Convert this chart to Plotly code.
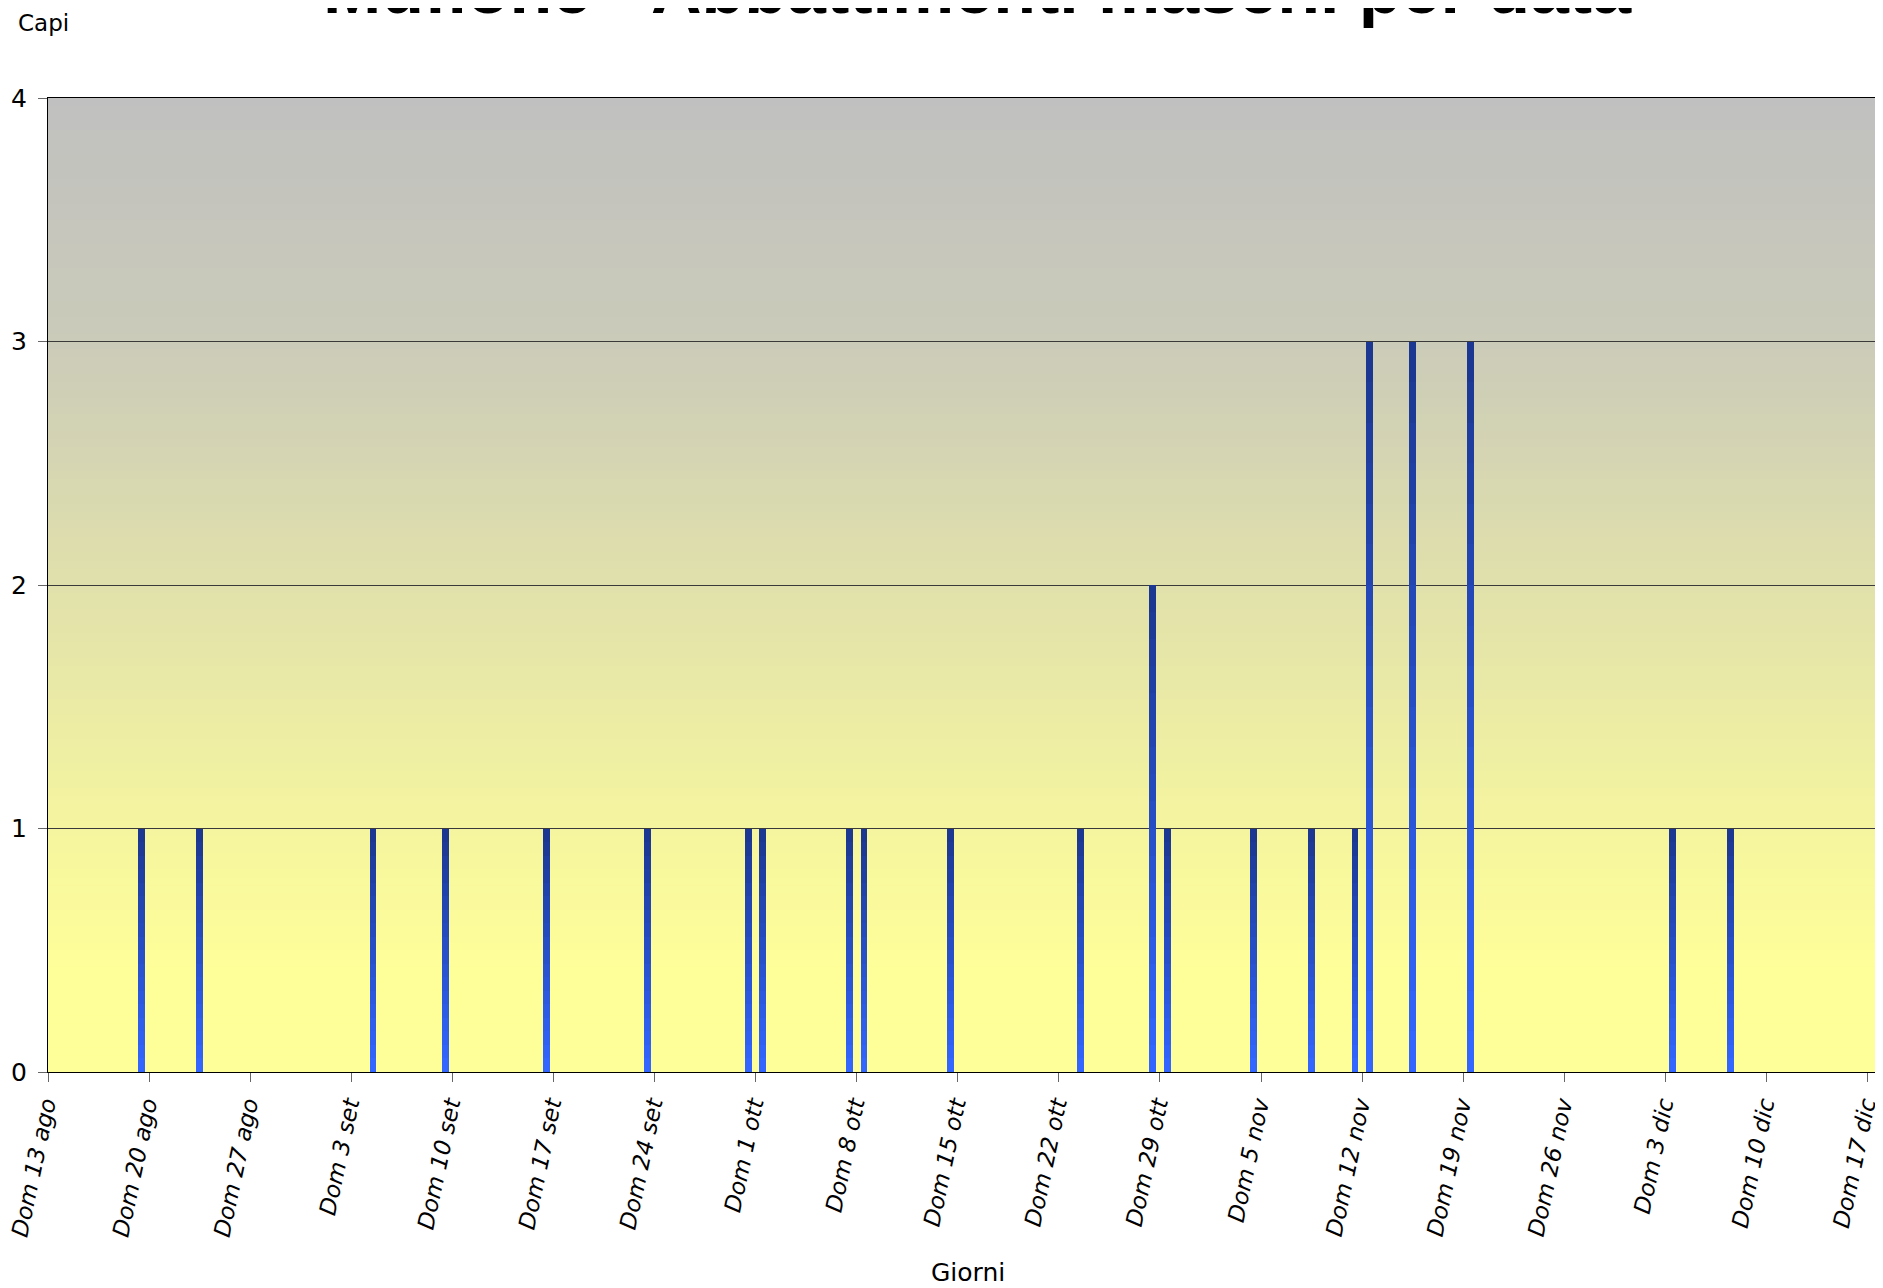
import plotly.graph_objects as go
import pandas as pd
import numpy as np

# ---- data ----
dates = ["2006-08-19", "2006-08-23", "2006-09-04", "2006-09-09", "2006-09-16",
         "2006-09-23", "2006-09-30", "2006-10-01", "2006-10-07", "2006-10-08",
         "2006-10-14", "2006-10-23", "2006-10-28", "2006-10-29", "2006-11-04",
         "2006-11-08", "2006-11-11", "2006-11-12", "2006-11-15", "2006-11-19",
         "2006-12-03", "2006-12-07"]
capi = [1, 1, 1, 1, 1,
        1, 1, 1, 1, 1,
        1, 1, 2, 1, 1,
        1, 1, 3, 3, 3,
        1, 1]
tick_labels = ["Dom 13 ago", "Dom 20 ago", "Dom 27 ago", "Dom 3 set", "Dom 10 set",
               "Dom 17 set", "Dom 24 set", "Dom 1 ott", "Dom 8 ott", "Dom 15 ott",
               "Dom 22 ott", "Dom 29 ott", "Dom 5 nov", "Dom 12 nov", "Dom 19 nov",
               "Dom 26 nov", "Dom 3 dic", "Dom 10 dic", "Dom 17 dic"]
y_ticks = [0, 1, 2, 3, 4]
title_text = "Muflone - Abbattimenti maschi per data"

tick_vals = pd.date_range("2006-08-13", periods=len(tick_labels), freq="7D")

fig = go.Figure()

# ---- bars with vertical gradient (overlaid layers) ----
N = 18
dark = np.array([28, 55, 145])
bright = np.array([51, 102, 255])
day_ms = 86400000
for k in range(N):
    frac = (N - k) / N
    t = k / (N - 1)
    c = dark + (bright - dark) * t
    color = "rgb(%d,%d,%d)" % tuple(c.round().astype(int))
    fig.add_trace(go.Bar(
        x=dates, y=[v * frac for v in capi],
        xperiod=day_ms, xperiodalignment="middle",
        width=0.47 * day_ms,
        marker=dict(color=color, line=dict(width=0)),
        showlegend=False, hoverinfo="skip" if k else None,
    ))

# ---- background gradient (grey top -> yellow bottom) ----
top = np.array([192, 192, 192])
bottom = np.array([255, 255, 153])
stops_t = [0.0, 0.25, 0.5, 0.75, 0.9, 1.0]
stops_v = [0.0, 0.17, 0.52, 0.84, 1.0, 1.0]
M = 120
shapes = []
for i in range(M):
    y0 = i / M
    y1 = (i + 1) / M
    tc = 1 - (y0 + y1) / 2  # fraction from top
    f = np.interp(tc, stops_t, stops_v)
    c = top + (bottom - top) * f
    shapes.append(dict(type="rect", xref="x domain", yref="y domain",
                       x0=0, x1=1, y0=y0, y1=min(1, y1 + 0.002),
                       fillcolor="rgb(%d,%d,%d)" % tuple(c.round().astype(int)),
                       line=dict(width=0), layer="below"))

# the page body has an 8px margin: figure size/margins compensate for it
fig.update_layout(
    width=1875, height=1280,
    margin=dict(l=40, r=1, t=90, b=216, autoexpand=False),
    paper_bgcolor="white", plot_bgcolor="#ffff99",
    barmode="overlay", bargap=0,
    shapes=shapes,
    font=dict(family="DejaVu Sans, Verdana, sans-serif", color="black"),
    annotations=[
        dict(text="<b>" + title_text + "</b>", xref="paper", yref="paper",
             x=0.507, y=1.0695, xanchor="center", yanchor="bottom", showarrow=False,
             font=dict(family="Liberation Sans, Arial, sans-serif", size=70, color="black")),
        dict(text="Capi", xref="paper", yref="paper", x=-0.0175, y=1.077,
             xanchor="left", yanchor="middle", showarrow=False,
             font=dict(size=23, color="black")),
        dict(text="Giorni", xref="paper", yref="paper", x=0.5014, y=-0.206,
             xanchor="center", yanchor="middle", showarrow=False,
             font=dict(size=25, color="black")),
    ],
)

fig.update_xaxes(
    type="date", range=["2006-08-13", "2006-12-18"],
    tickmode="array", tickvals=tick_vals, ticktext=tick_labels,
    tickangle=-78, tickfont=dict(size=23, style="italic"),
    ticks="outside", ticklen=9, tickcolor="#666666", tickwidth=1,
    ticklabeloverflow="allow", ticklabelshift=-3, automargin=False,
    showline=True, linecolor="black", linewidth=1, mirror=True,
    showgrid=False, zeroline=False,
)
fig.update_yaxes(
    range=[0, 4], tickmode="array", tickvals=y_ticks,
    tickfont=dict(size=25), ticklabelstandoff=6, automargin=False,
    ticks="outside", ticklen=9, tickcolor="#666666", tickwidth=1,
    showline=True, linecolor="black", linewidth=1, mirror=True,
    showgrid=True, gridcolor="#3a3a3a", gridwidth=1, zeroline=False,
)

fig.write_html("out.html")
